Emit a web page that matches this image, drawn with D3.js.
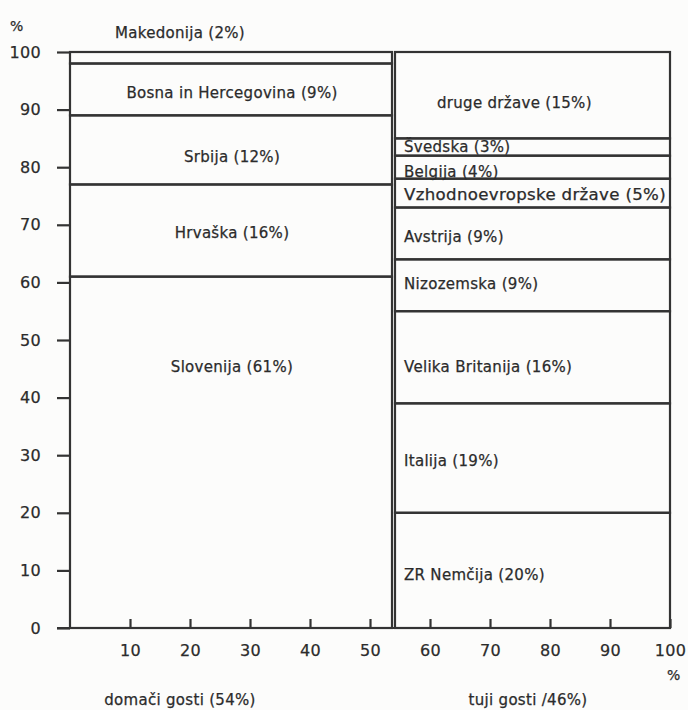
<!DOCTYPE html>
<html>
<head>
<meta charset="utf-8">
<script src="https://cdn.jsdelivr.net/npm/d3@7"></script>
<style>
  body { margin: 0; background: #fcfcfb; }
  text { font-family: "DejaVu Sans", sans-serif; fill: #2b2b2b; stroke: #2b2b2b; stroke-width: 0.25px; letter-spacing: 0.3px; }
</style>
</head>
<body>
<div class="chart"></div>
<script>
// domestic vs foreign guests, shares of each group
var groupNames = ["domači gosti (54%)", "tuji gosti /46%)"];
var groupShares = [54, 46];

var domesticNames = ["Slovenija (61%)", "Hrvaška (16%)", "Srbija (12%)", "Bosna in Hercegovina (9%)", "Makedonija (2%)"];
var domesticShares = [61, 16, 12, 9, 2];

var foreignNames = ["ZR Nemčija (20%)", "Italija (19%)", "Velika Britanija (16%)", "Nizozemska (9%)", "Avstrija (9%)",
  "Vzhodnoevropske države (5%)", "Belgija (4%)", "Švedska (3%)", "druge države (15%)"];
var foreignShares = [20, 19, 16, 9, 9, 5, 4, 3, 15];

var yTicks = [0, 10, 20, 30, 40, 50, 60, 70, 80, 90, 100];
var xTicks = [10, 20, 30, 40, 50, 60, 70, 80, 90, 100];
var xTickLabels = ["10", "20", "30", "40", "50", "60", "70", "80", "90", "100"];

var svgWidth = 688;
var svgHeight = 710;
var ink = "#333";

var svg = d3.select(".chart")
  .append("svg")
  .attr("width", svgWidth)
  .attr("height", svgHeight);

var xScale = d3.scaleLinear().domain([0, 100]).range([70, 670]);
var yScale = d3.scaleLinear().domain([0, 100]).range([628, 52]);

// stack the shares
function stack(shares) {
  var acc = 0;
  return shares.map(function (v) {
    var d = { y0: acc, y1: acc + v };
    acc += v;
    return d;
  });
}
var domStack = stack(domesticShares);
var forStack = stack(foreignShares);
var split = groupShares[0];

// left column (domestic)
svg.append("g").selectAll("rect")
  .data(domStack)
  .enter()
  .append("rect")
  .attr("x", xScale(0))
  .attr("y", d => yScale(d.y1))
  .attr("width", xScale(split) - xScale(0) - 2)
  .attr("height", d => yScale(d.y0) - yScale(d.y1))
  .attr("fill", "none")
  .attr("stroke", ink)
  .attr("stroke-width", 2.2);

// right column (foreign)
svg.append("g").selectAll("rect")
  .data(forStack)
  .enter()
  .append("rect")
  .attr("x", xScale(split) + 1)
  .attr("y", d => yScale(d.y1))
  .attr("width", xScale(100) - xScale(split) - 1)
  .attr("height", d => yScale(d.y0) - yScale(d.y1))
  .attr("fill", "none")
  .attr("stroke", ink)
  .attr("stroke-width", 2.2);

// domestic labels (baseline offsets in px from the box centre)
var domLabelY = [372, 238, 162, 98, 38];
svg.append("g").selectAll("text")
  .data(domStack)
  .enter()
  .append("text")
  .attr("x", (d, i) => i === 4 ? 115 : (xScale(0) + xScale(split)) / 2)
  .attr("y", (d, i) => domLabelY[i])
  .style("text-anchor", (d, i) => i === 4 ? "start" : "middle")
  .style("font-size", "15px")
  .text((d, i) => domesticNames[i]);

// foreign labels
var forLabelY = [580, 466, 372, 289, 242, 200, 177, 152, 108];
svg.append("g").selectAll("text")
  .data(forStack)
  .enter()
  .append("text")
  .attr("x", (d, i) => i === 8 ? 437 : 404)
  .attr("y", (d, i) => forLabelY[i])
  .style("font-size", "15px")
  .attr("textLength", (d, i) => i === 5 ? 262 : null)
  .attr("lengthAdjust", "spacingAndGlyphs")
  .text((d, i) => foreignNames[i]);

// y axis
var leftAxis = d3.axisLeft(yScale)
  .tickValues(yTicks)
  .tickSize(13)
  .tickPadding(16);
svg.append("g")
  .attr("transform", `translate(${xScale(0)}, 0)`)
  .call(leftAxis)
  .call(g => g.select(".domain").remove())
  .call(g => g.selectAll("line").attr("stroke", ink).attr("stroke-width", 2.2))
  .call(g => g.selectAll("text").style("font-size", "16px").attr("fill", "#2b2b2b"));

// x axis, ticks pointing up
var bottomAxis = d3.axisBottom(xScale)
  .tickValues(xTicks)
  .tickSize(-9)
  .tickPadding(17)
  .tickFormat((d, i) => xTickLabels[i]);
svg.append("g")
  .attr("transform", `translate(0, ${yScale(0)})`)
  .call(bottomAxis)
  .call(g => g.select(".domain").remove())
  .call(g => g.selectAll("line").attr("stroke", ink).attr("stroke-width", 2.2))
  .call(g => g.selectAll("text").style("font-size", "16px").attr("fill", "#2b2b2b"));

svg.append("line")
  .attr("x1", xScale(0) - 13)
  .attr("x2", xScale(100))
  .attr("y1", yScale(0))
  .attr("y2", yScale(0))
  .attr("stroke", ink)
  .attr("stroke-width", 2.2);

// axis units
svg.append("text").attr("x", 10).attr("y", 31).style("font-size", "14px").text("%");
svg.append("text").attr("x", 667).attr("y", 680).style("font-size", "14px").text("%");

// group labels
svg.append("g").selectAll("text")
  .data(groupNames)
  .enter()
  .append("text")
  .attr("x", (d, i) => i === 0 ? 180 : 528)
  .attr("y", 705)
  .style("text-anchor", "middle")
  .style("font-size", "15px")
  .text(d => d);
</script>
</body>
</html>
